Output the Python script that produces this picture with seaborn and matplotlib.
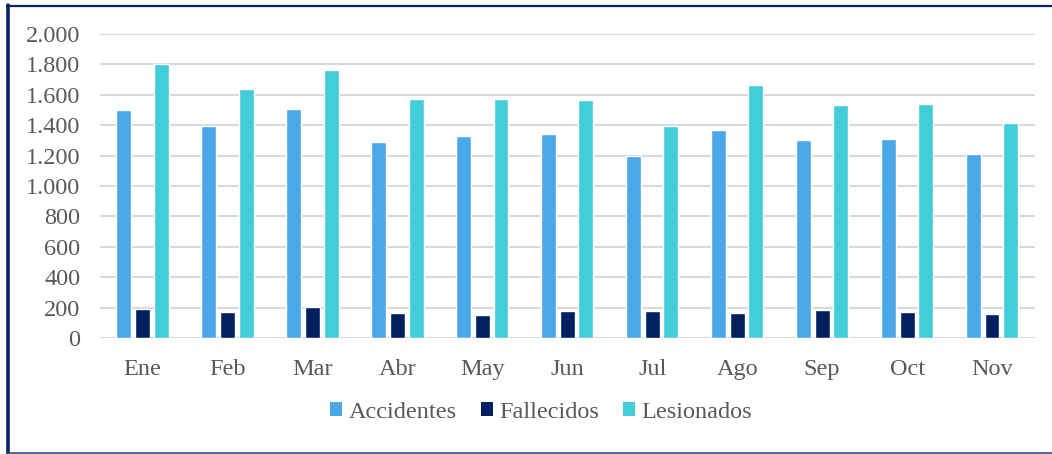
import matplotlib
matplotlib.use("Agg")
import matplotlib.pyplot as plt
import matplotlib.ticker as mticker
from matplotlib.lines import Line2D
from matplotlib.patches import Patch
import seaborn as sns
import pandas as pd

months = ["Ene", "Feb", "Mar", "Abr", "May", "Jun", "Jul", "Ago", "Sep", "Oct", "Nov"]
accidentes = [1500, 1395, 1504, 1287, 1328, 1342, 1199, 1368, 1300, 1307, 1213]
fallecidos = [190, 174, 206, 164, 151, 180, 178, 162, 182, 169, 160]
lesionados = [1803, 1636, 1763, 1572, 1573, 1564, 1397, 1664, 1531, 1539, 1412]
series_names = ["Accidentes", "Fallecidos", "Lesionados"]
colors = ["#4AA8E9", "#00205F", "#42CDDA"]
yticks = [0, 200, 400, 600, 800, 1000, 1200, 1400, 1600, 1800, 2000]

rows = []
for name, vals in zip(series_names, [accidentes, fallecidos, lesionados]):
    for m, v in zip(months, vals):
        rows.append({"Mes": m, "Serie": name, "Valor": v})
df = pd.DataFrame(rows)

sns.set_theme(style="white")
plt.rcParams["font.family"] = ["Liberation Serif", "DejaVu Serif"]
text_color = "#595959"
fs = 17.5

fig = plt.figure(figsize=(10.52, 4.54), dpi=100)
ax = fig.add_axes([100 / 1052, 1 - 338 / 454, 934.5 / 1052, 304 / 454])

sns.barplot(data=df, x="Mes", y="Valor", hue="Serie", order=months,
            hue_order=series_names, palette=colors, width=0.66, gap=0.2,
            ax=ax, legend=False, saturation=1, errorbar=None)

ax.set_ylim(0, 2000)
ax.set_xlim(-0.5, len(months) - 0.5)
ax.set_yticks(yticks)
ax.yaxis.set_major_formatter(mticker.FuncFormatter(lambda v, p: f"{int(v):,}".replace(",", ".")))
ax.grid(axis="y", color="#D9D9D9", linewidth=1.5)
ax.set_axisbelow(True)
for s in ax.spines.values():
    s.set_visible(False)
ax.set_xlabel("")
ax.set_ylabel("")
ax.tick_params(axis="both", length=0, labelsize=fs, labelcolor=text_color)
ax.tick_params(axis="x", pad=15)
ax.tick_params(axis="y", pad=14)
for lab in ax.get_xticklabels() + ax.get_yticklabels():
    lab.set_family("Liberation Serif")

handles = [Patch(facecolor=c, edgecolor="none") for c in colors]
fig.legend(handles, series_names, loc="center", bbox_to_anchor=(541 / 1052, 1 - 412 / 454),
           ncol=3, frameon=False, prop={"family": "Liberation Serif", "size": fs},
           labelcolor=text_color,
           handlelength=0.5, handleheight=0.5, handletextpad=0.25, columnspacing=1.0)

navy = "#0B2366"
fig.add_artist(Line2D([8 / 1052, 8 / 1052], [1 - 5 / 454, 1 - 453 / 454], color=navy, linewidth=2.6, transform=fig.transFigure))
fig.add_artist(Line2D([7 / 1052, 1.0], [1 - 6 / 454, 1 - 6 / 454], color=navy, linewidth=1.6, transform=fig.transFigure))
fig.add_artist(Line2D([7 / 1052, 1.0], [1 - 452.8 / 454, 1 - 452.8 / 454], color="#3B4A7E", linewidth=1.2, transform=fig.transFigure))

fig.savefig("out.png", dpi=100, facecolor="white")
